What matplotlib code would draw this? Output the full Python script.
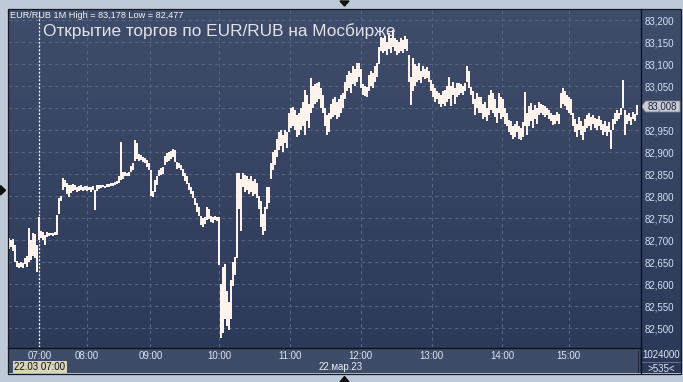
import numpy as np
import matplotlib
matplotlib.use("Agg")
import matplotlib.pyplot as plt
from matplotlib.patches import Polygon, Rectangle
from matplotlib.colors import LinearSegmentedColormap

# ---------------- data (prices in thousandths above 82.000) ----------------
base_price = 82.0
lows = [680, 685, 675, 650, 640, 636, 640, 638, 645, 640, 650, 655, 665, 660, 629, 700,
        705, 700, 689, 708, 710, 711, 710, 712, 712, 760, 790, 815, 822, 805, 798,
        808, 812, 815, 810, 812, 814, 813, 815, 812, 814, 810, 815, 769,
        812, 816, 818, 820, 819, 820, 822, 823, 824, 826, 828, 830, 838,
        840, 845, 845, 846, 855, 860, 880, 885, 880, 882, 878, 875, 866, 860,
        800, 798, 810, 825, 845, 848, 850, 870, 878, 880, 885, 890, 878,
        862, 865, 860, 845, 835, 828, 815, 805, 795, 780, 765, 755, 735, 730, 738,
        745, 748, 742, 740, 745, 743, 644, 477, 490, 520, 505, 496, 520, 595, 620,
        660, 770, 720, 820, 810, 815, 805, 810, 800, 805, 795, 770, 730, 712, 720,
        770, 785, 840, 860, 870, 890, 905, 915, 900, 920, 910,
        945, 955, 960, 950, 935, 940, 950, 960, 940, 970, 955,
        990, 1000, 1010, 1015, 1020, 1000, 990, 960, 940, 945,
        975, 980, 985, 975, 980, 990, 1000, 1020, 1040, 1045, 1035, 1055, 1050, 1060,
        1070, 1045, 1030, 1028, 1026, 1040, 1050, 1045, 1060, 1070, 1100, 1130,
        1125, 1130, 1120, 1135, 1125, 1140, 1130, 1120, 1125, 1130, 1125, 1135, 1130,
        1060, 1007, 1040, 1050, 1060, 1065, 1057, 1070, 1066, 1068, 1060,
        1040, 1025, 1015, 1020, 1010, 1004, 1010, 1005, 1015,
        1020, 1005, 1030, 1010, 1025, 1030, 1035, 1030, 1040, 1060, 1045,
        1030, 1010, 985, 1000, 990, 990, 975, 980, 970, 985, 995, 990, 980, 966,
        990, 975, 980, 965, 959, 945, 940, 930, 935, 945, 930, 928, 935, 960, 940,
        960, 970, 955, 975, 965, 985, 990, 985, 980, 985, 975, 970, 962, 965, 970, 965,
        1000, 1010, 1005, 995, 990, 985, 960, 945, 935, 950, 940, 928, 945,
        955, 960, 950, 965, 955, 950, 960, 950, 940, 945, 936, 945, 907,
        950, 965, 970, 975, 985, 1000, 940, 965, 970, 962, 975, 970, 985]
highs = [705, 700, 702, 690, 652, 648, 650, 648, 660, 665, 727, 700, 717, 715, 690, 754,
         722, 718, 712, 718, 717, 716, 716, 718, 757, 795, 800, 841, 838, 830, 825,
         826, 828, 825, 822, 824, 826, 822, 824, 823, 822, 820, 823, 815,
         826, 826, 825, 826, 824, 827, 828, 830, 830, 833, 834, 845, 924,
         856, 855, 852, 856, 868, 876, 928, 920, 895, 893, 890, 888, 882, 875,
         860, 812, 838, 845, 860, 865, 866, 892, 898, 900, 902, 907, 905,
         878, 875, 872, 862, 852, 845, 830, 822, 812, 795, 785, 775, 755, 750, 752,
         775, 770, 755, 752, 756, 754, 752, 600, 640, 645, 585, 560, 610, 650, 663,
         852, 853, 840, 852, 848, 845, 840, 845, 835, 840, 830, 800, 790, 760, 775,
         820, 822, 875, 900, 905, 930, 945, 950, 940, 951, 945,
         990, 1000, 1004, 995, 985, 990, 1000, 1015, 1041, 1030, 1010,
         1068, 1050, 1055, 1057, 1060, 1045, 1030, 1000, 985, 990,
         1010, 1020, 1026, 1015, 1020, 1030, 1035, 1060, 1075, 1085, 1080, 1095, 1090, 1102,
         1102, 1090, 1055, 1050, 1048, 1075, 1085, 1080, 1095, 1102, 1140, 1163,
         1160, 1165, 1150, 1170, 1160, 1178, 1160, 1155, 1150, 1160, 1155, 1165, 1158,
         1121, 1070, 1114, 1100, 1095, 1102, 1085, 1095, 1090, 1093, 1085,
         1064, 1055, 1045, 1040, 1035, 1030, 1040, 1042, 1050,
         1072, 1050, 1060, 1045, 1057, 1057, 1055, 1050, 1057, 1095, 1085,
         1049, 1040, 1020, 1035, 1025, 1026, 1010, 1015, 1000, 1030, 1041, 1035, 1020, 1000,
         1034, 1025, 1020, 1000, 990, 973, 970, 960, 965, 970, 960, 955, 968, 1037, 990,
         1005, 1011, 995, 1008, 1000, 1015, 1010, 1008, 1005, 1000, 996, 990, 985, 985, 992, 988,
         1035, 1046, 1040, 1030, 1025, 1020, 989, 975, 965, 980, 970, 960, 975,
         985, 989, 980, 985, 978, 975, 982, 973, 965, 970, 960, 968, 950,
         975, 990, 996, 990, 1000, 1064, 995, 985, 990, 980, 992, 988, 1008]

hour_labels = ["07:00", "08:00", "09:00", "10:00", "11:00", "12:00", "13:00", "14:00", "15:00"]
hour_bar_pos = [15.4, 39.25, 70.9, 105.25, 140.6, 176.1, 211.6, 246.9, 280.0]
price_ticks = [82.50, 82.55, 82.60, 82.65, 82.70, 82.75, 82.80, 82.85, 82.90,
               82.95, 83.00, 83.05, 83.10, 83.15, 83.20]
hidden_tick = 83.00          # covered by the last-price marker in the reference
last_price = "83,008"
header = "EUR/RUB 1M High = 83,178 Low = 82,477"
title = "Открытие торгов по EUR/RUB на Мосбирже"
date_label = "22.03 07:00"
day_label = "22.мар.23"
volume_label = "1024000"
count_label = ">535<"

# ---------------- figure ----------------
W, H = 683, 382
fig = plt.figure(figsize=(W / 100, H / 100), dpi=100, facecolor="#bfcad9")
FONT = ["Liberation Sans", "DejaVu Sans"]


def px_axes(x0, y0, x1, y1, **kw):
    return fig.add_axes([x0 / W, 1 - y1 / H, (x1 - x0) / W, (y1 - y0) / H], **kw)


# panel gradient background
bg = px_axes(8, 9, 681, 373)
cmap = LinearSegmentedColormap.from_list("g", ["#3f4d6b", "#2b3857"])
bg.imshow(np.linspace(0, 1, 256).reshape(-1, 1), cmap=cmap, aspect="auto",
          extent=[0, 1, 0, 1], origin="upper")
bg.set_axis_off()

# bottom time-axis strip
strip = px_axes(8, 348, 640, 373)
strip.set_facecolor("#3f4c68")
strip.set_xticks([]); strip.set_yticks([])
for s in strip.spines.values():
    s.set_visible(False)

# main price axes
ax = px_axes(8, 10, 640, 347)
ax.patch.set_alpha(0)
xs = np.arange(len(lows))
lo = base_price + np.array(lows) / 1000.0
hi = base_price + np.array(highs) / 1000.0
ax.vlines(xs, lo, hi, color="#fff3ee", linewidth=1.1, antialiased=False, zorder=3)
ax.set_xlim(-0.25, 315.75)
ax.set_ylim(82.4575, 83.2234)

ax.set_yticks(price_ticks)
ax.set_yticklabels(["" if abs(v - hidden_tick) < 1e-9 else f"{v:.3f}".replace(".", ",")
                    for v in price_ticks],
                   fontsize=7, color="#d4e0f2", family=FONT)
ax.yaxis.tick_right()
ax.tick_params(axis="y", length=0, pad=3)
ax.set_xticks(hour_bar_pos)
ax.set_xticklabels(hour_labels, fontsize=7, color="#dbe5f4", family=FONT)
ax.tick_params(axis="x", length=0, pad=3)
ax.grid(True, color="#56647f", linestyle=(0, (3, 3)), linewidth=0.8, zorder=1)
ax.axvline(hour_bar_pos[0], color="white", linestyle=(0, (1.5, 1.5)), linewidth=0.9, zorder=2)
for s in ax.spines.values():
    s.set_visible(False)

# overlay for chrome in pixel coordinates
ov = fig.add_axes([0, 0, 1, 1])
ov.set_xlim(0, W); ov.set_ylim(H, 0)
ov.set_axis_off()
ov.patch.set_alpha(0)

# borders
ov.add_patch(Rectangle((7.5, 8.5), 673, 365, fill=False, edgecolor="#161a22", linewidth=0.9))
ov.plot([640.5, 640.5], [9, 373], color="#0c0e12", linewidth=0.9)
ov.plot([8, 640.5], [347.5, 347.5], color="#0c0e12", linewidth=0.9)
ov.plot([637.5, 637.5], [351, 372], color="#222838", linewidth=0.8)
ov.plot([642, 680], [362, 362], color="#64708c", linewidth=0.7)

# triangles in frame
for pts in ([(340, 1), (349, 1), (344.5, 6)],
            [(0.5, 185.5), (0.5, 195), (5.5, 190.3)],
            [(340, 382), (349, 382), (344.5, 376.5)]):
    ov.add_patch(Polygon(pts, closed=True, color="#111111"))

# texts
ov.text(10, 15, header, fontsize=6.6, color="#f2f2f2", family=FONT, va="center", ha="left")
ov.text(43, 36, title, fontsize=12.4, color="#e0e3e9", family=FONT, va="baseline", ha="left")

# last price marker
ov.add_patch(Polygon([(641.5, 106.5), (645.5, 101), (680, 101), (680, 112), (645.5, 112)],
                     closed=True, facecolor="#c9ccd3", edgecolor="#7c828e", linewidth=0.6))
ov.text(662.5, 106.8, last_price, fontsize=7, color="#1a2340", family=FONT, ha="center", va="center")

# date box
ov.add_patch(Rectangle((12.5, 361), 54, 12, facecolor="#d9d5bb", edgecolor="none"))
ov.text(39.5, 367.2, date_label, fontsize=7, color="#111111", family=FONT, ha="center", va="center")
ov.text(319, 366.5, day_label, fontsize=7, color="#e8edf5", family=FONT, ha="left", va="center")

ov.text(661, 354.5, volume_label, fontsize=7, color="#e0e8f4", family=FONT, ha="center", va="center")
ov.text(661, 369, count_label, fontsize=7, color="#e0e8f4", family=FONT, ha="center", va="center")

fig.savefig("out.png", dpi=100, facecolor=fig.get_facecolor())
